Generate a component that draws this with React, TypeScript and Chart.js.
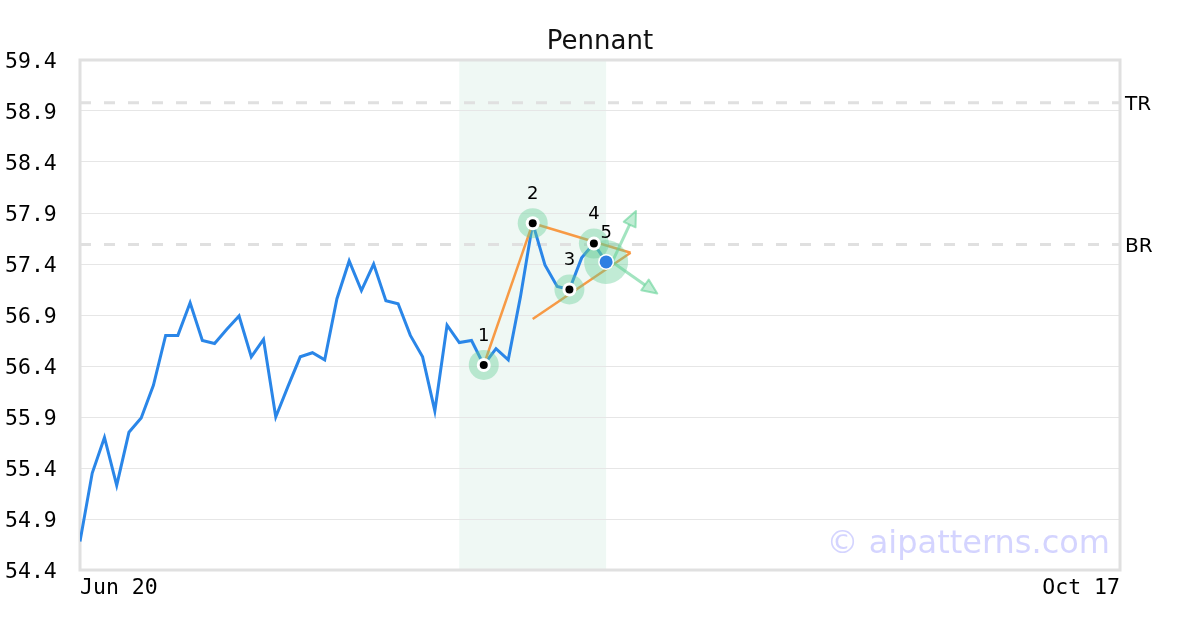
import React, { useEffect, useRef } from 'react';
import { Chart, registerables } from 'chart.js';

Chart.register(...registerables);

// ---- data ----
const xTickIndex = [0, 85];
const xTickLabels = ['Jun 20', 'Oct 17'];
const yTicks = [54.4, 54.9, 55.4, 55.9, 56.4, 56.9, 57.4, 57.9, 58.4, 58.9, 59.4];

const priceValues = [
  54.68, 55.35, 55.70, 55.23, 55.75, 55.89, 56.21, 56.70, 56.70, 57.02,
  56.65, 56.62, 56.76, 56.89, 56.49, 56.66, 55.90, 56.20, 56.49, 56.53,
  56.46, 57.06, 57.43, 57.14, 57.40, 57.04, 57.01, 56.70, 56.49, 55.96,
  56.80, 56.63, 56.65, 56.41, 56.57, 56.46, 57.08, 57.80, 57.39, 57.18,
  57.15, 57.46, 57.60, 57.42,
];

const shadeRange = [31, 43];
const levelNames = ['TR', 'BR'];
const levelValues = [58.98, 57.59];

const patternIndex = [33, 37, 40, 42, 43];
const patternLabels = ['1', '2', '3', '4', '5'];

const poleX = [33, 37];
const poleY = [56.41, 57.8];
const upperX = [37, 45];
const upperY = [57.8, 57.51];
const lowerX = [37, 45];
const lowerY = [56.86, 57.51];

const arrowStartX = 43.5;
const arrowStartY = 57.42;
const arrowEndX = [45.44, 47.18];
const arrowEndY = [57.92, 57.11];

const TITLE = 'Pennant';
const WATERMARK = '© aipatterns.com';

const BLUE = '#2a86e8';
const ORANGE = '#f79a45';
const MONO = '"DejaVu Sans Mono", monospace';
const SANS = '"DejaVu Sans", sans-serif';

const toPts = (xs: number[], ys: number[]) => xs.map((x, i) => ({ x, y: ys[i] }));

const overlay = {
  id: 'overlay',
  beforeDraw(chart: any) {
    const { ctx, chartArea, scales } = chart;
    const { top, bottom } = chartArea;
    const x = scales.x;
    ctx.save();
    ctx.fillStyle = '#ffffff';
    ctx.fillRect(0, 0, chart.width, chart.height);
    const x0 = x.getPixelForValue(shadeRange[0]);
    const x1 = x.getPixelForValue(shadeRange[1]);
    ctx.fillStyle = '#eff8f4';
    ctx.fillRect(x0, top, x1 - x0, bottom - top);
    ctx.restore();
  },
  beforeDatasetsDraw(chart: any) {
    const { ctx, chartArea, scales } = chart;
    const { left, right, top, bottom } = chartArea;
    const y = scales.y;
    ctx.save();
    // dashed levels
    ctx.strokeStyle = '#e0e0e0';
    ctx.lineWidth = 3;
    ctx.setLineDash([11, 13]);
    levelValues.forEach((v, i) => {
      const py = y.getPixelForValue(v);
      ctx.beginPath();
      ctx.moveTo(left, py);
      ctx.lineTo(right, py);
      ctx.stroke();
      ctx.fillStyle = '#000';
      ctx.font = `20px ${SANS}`;
      ctx.textAlign = 'left';
      ctx.textBaseline = 'middle';
      ctx.fillText(levelNames[i], right + 5, py + 2);
    });
    ctx.setLineDash([]);
    // border
    ctx.strokeStyle = '#e0e0e0';
    ctx.lineWidth = 3;
    ctx.strokeRect(left, top, right - left, bottom - top);
    ctx.restore();
  },
  afterDatasetsDraw(chart: any) {
    const { ctx, scales, chartArea } = chart;
    const x = scales.x;
    const y = scales.y;
    ctx.save();
    // halos
    patternIndex.forEach((idx, i) => {
      const px = x.getPixelForValue(idx);
      const py = y.getPixelForValue(priceValues[idx]);
      ctx.beginPath();
      ctx.arc(px, py, i === patternIndex.length - 1 ? 22 : 15, 0, Math.PI * 2);
      ctx.fillStyle = 'rgba(100,205,150,0.4)';
      ctx.fill();
    });
    // arrows
    const sx = x.getPixelForValue(arrowStartX);
    const sy = y.getPixelForValue(arrowStartY);
    arrowEndX.forEach((ex, i) => {
      const px = x.getPixelForValue(ex);
      const py = y.getPixelForValue(arrowEndY[i]);
      const ang = Math.atan2(py - sy, px - sx);
      const len = 15;
      const hw = 6.5;
      const bx = px - Math.cos(ang) * len;
      const by = py - Math.sin(ang) * len;
      ctx.strokeStyle = 'rgba(100,210,150,0.6)';
      ctx.lineWidth = 3;
      ctx.beginPath();
      ctx.moveTo(sx, sy);
      ctx.lineTo(bx, by);
      ctx.stroke();
      ctx.beginPath();
      ctx.moveTo(px, py);
      ctx.lineTo(bx + Math.sin(ang) * hw, by - Math.cos(ang) * hw);
      ctx.lineTo(bx - Math.sin(ang) * hw, by + Math.cos(ang) * hw);
      ctx.closePath();
      ctx.fillStyle = 'rgba(100,210,150,0.4)';
      ctx.fill();
      ctx.lineWidth = 2;
      ctx.lineJoin = 'round';
      ctx.stroke();
    });
    // dots and labels
    patternIndex.forEach((idx, i) => {
      const px = x.getPixelForValue(idx);
      const py = y.getPixelForValue(priceValues[idx]);
      const last = i === patternIndex.length - 1;
      ctx.beginPath();
      ctx.arc(px, py, last ? 8 : 7, 0, Math.PI * 2);
      ctx.fillStyle = '#ffffff';
      ctx.fill();
      ctx.beginPath();
      ctx.arc(px, py, last ? 6.5 : 4, 0, Math.PI * 2);
      ctx.fillStyle = last ? '#2e7fe2' : '#000000';
      ctx.fill();
      ctx.fillStyle = '#000';
      ctx.font = `18px ${SANS}`;
      ctx.textAlign = 'center';
      ctx.textBaseline = 'middle';
      ctx.fillText(patternLabels[i], px, py - 29);
    });
    // watermark
    ctx.font = `32px ${SANS}`;
    ctx.fillStyle = 'rgba(160,160,255,0.45)';
    ctx.textAlign = 'right';
    ctx.textBaseline = 'alphabetic';
    ctx.fillText(WATERMARK, chartArea.right - 10, 553);
    // title
    ctx.font = `26px ${SANS}`;
    ctx.fillStyle = '#111';
    ctx.textAlign = 'center';
    ctx.fillText(TITLE, (chartArea.left + chartArea.right) / 2, 49);
    ctx.restore();
  },
};

export default function App() {
  const ref = useRef<HTMLCanvasElement>(null);
  useEffect(() => {
    document.body.style.margin = '0';
    const canvas = ref.current!;
    const chart = new Chart(canvas, {
      type: 'line',
      data: {
        datasets: [
          {
            data: toPts(poleX, poleY),
            borderColor: ORANGE,
            borderWidth: 2.5,
            pointRadius: 0,
            order: 0,
          },
          {
            data: toPts(upperX, upperY),
            borderColor: ORANGE,
            borderWidth: 2.5,
            pointRadius: 0,
            order: 0,
          },
          {
            data: toPts(lowerX, lowerY),
            borderColor: ORANGE,
            borderWidth: 2.5,
            pointRadius: 0,
            order: 0,
          },
          {
            data: priceValues.map((v, i) => ({ x: i, y: v })),
            borderColor: BLUE,
            borderWidth: 3,
            pointRadius: 0,
            tension: 0,
            order: 1,
          },
        ],
      },
      options: {
        animation: false,
        responsive: false,
        devicePixelRatio: 1,
        events: [],
        layout: { padding: { left: 5, top: 60, right: 80, bottom: 0 } },
        plugins: {
          legend: { display: false },
          tooltip: { enabled: false },
          title: { display: false },
        },
        scales: {
          x: {
            type: 'linear',
            min: 0,
            max: 85,
            grid: { display: false, drawTicks: false },
            border: { display: false },
            afterBuildTicks: (scale: any) => {
              scale.ticks = xTickIndex.map((v) => ({ value: v }));
            },
            afterFit: (scale: any) => {
              scale.height = 60;
            },
            ticks: {
              autoSkip: false,
              maxRotation: 0,
              align: 'inner',
              padding: 6,
              color: '#000',
              font: { family: MONO, size: 21.5 },
              callback: (_v: any, i: number) => xTickLabels[i],
            },
          },
          y: {
            type: 'linear',
            min: 54.4,
            max: 59.4,
            grid: { color: '#e6e6e6', lineWidth: 1, drawTicks: false },
            border: { display: false },
            afterBuildTicks: (scale: any) => {
              scale.ticks = yTicks.map((v) => ({ value: v }));
            },
            afterFit: (scale: any) => {
              scale.width = 75;
            },
            ticks: {
              crossAlign: 'far',
              labelOffset: 2.5,
              color: '#000',
              font: { family: MONO, size: 21.5 },
              callback: (v: any) => Number(v).toFixed(1),
            },
          },
        },
      },
      plugins: [overlay],
    } as any);
    return () => chart.destroy();
  }, []);
  return (
    <div style={{ width: 1200, height: 630 }}>
      <canvas ref={ref} width={1200} height={630} style={{ display: 'block', width: 1200, height: 630 }} />
    </div>
  );
}
